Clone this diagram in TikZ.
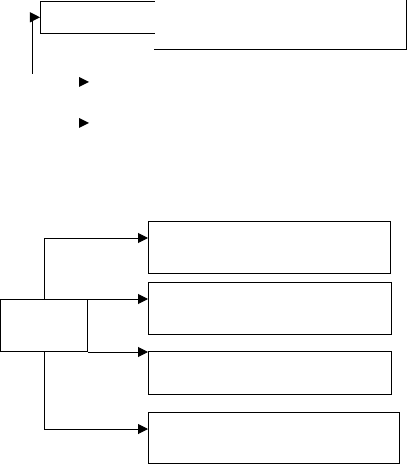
\documentclass[tikz,border=0pt]{standalone}
\usepackage{tikz}
\usetikzlibrary{arrows.meta,positioning,calc}

\begin{document}
\begin{tikzpicture}[
        x=0.025cm, y=-0.025cm,
        frame/.style={
            rectangle,
            draw=black,
            line width=0.7pt,
            anchor=north west,
            inner sep=0pt,
            minimum height=1.3cm
        },
        open/.style={
            rectangle,
            anchor=north west,
            inner sep=0pt
        },
        edge/.style={draw=black, line width=0.7pt},
        flow/.style={draw=black, line width=0.7pt, -{Triangle[length=2.5mm, width=2.5mm]}}
    ]
        \useasboundingbox (0,0) rectangle (407,464);

        % top part
        \node[open, minimum width=2.85cm, minimum height=0.8cm]   (head)    at (40,1) {};
        \node[open, minimum width=6.3cm, minimum height=1.225cm]  (headext) at (154,0) {};
        \draw[edge] (head.north east) -- (head.north west) -- (head.south west) -- (head.south east);
        \draw[edge] (headext.north east) -- (headext.south east) -- (headext.south west);

        \coordinate (loopin) at (32,74);
        \draw[flow] (loopin) |- (head.west);

        \fill (79,77) -- (89,82) -- (79,87) -- cycle;
        \fill (79,118) -- (89,123) -- (79,128) -- cycle;

        % bottom part
        \node[frame, minimum width=2.175cm] (root) at (0,299) {};

        \node[frame, minimum width=6.05cm]  (b1) at (148,221) {};
        \node[frame, minimum width=6.075cm] (b2) at (148,282) {};
        \node[frame, minimum width=6.075cm, minimum height=1.075cm] (b3) at (148,351) {};
        \node[frame, minimum width=6.275cm, minimum height=1.275cm] (b4) at (148,412) {};

        \draw[flow] (root.north) |- ($(b1.north west)+(0,17)$);
        \draw[flow] (root.north east) -- (root.north east -| b2.west);
        \draw[flow] (root.south east) -- (root.south east -| b3.west);
        \draw[flow] (root.south) |- ($(b4.north west)+(0,17)$);
    \end{tikzpicture}
\end{document}
